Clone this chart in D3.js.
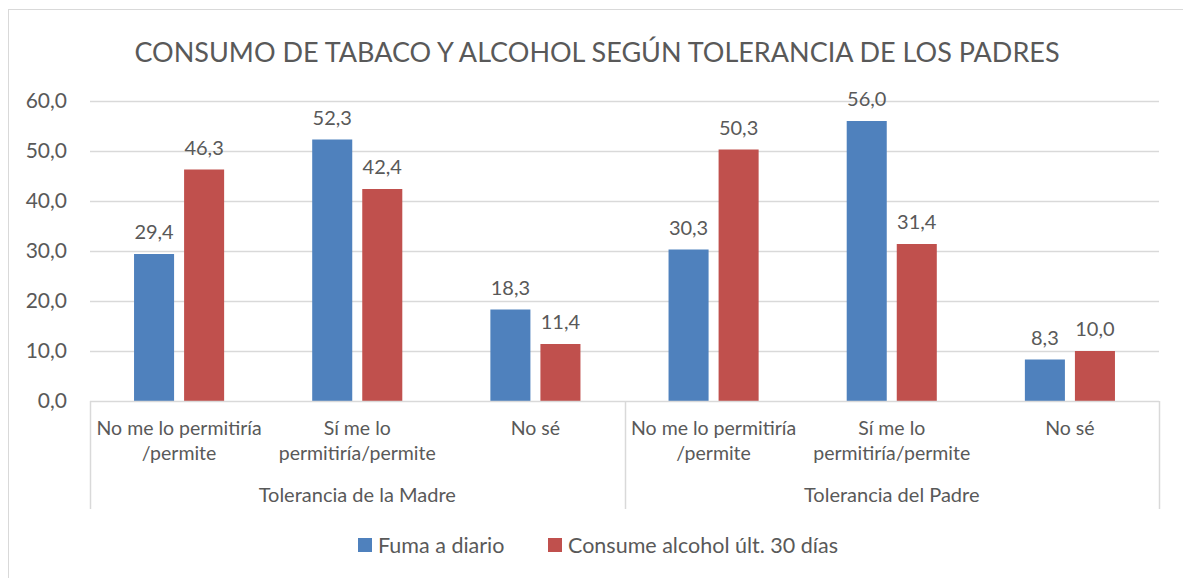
<!DOCTYPE html>
<html>
<head>
<meta charset="utf-8">
<script src="https://cdn.jsdelivr.net/npm/d3@7"></script>
<style>
  body { margin: 0; background: #fff; }
  svg { display: block; font-family: Lato, "Open Sans", sans-serif; }
</style>
</head>
<body>
<div id="chart"></div>
<script>
// ── Data ───────────────────────────────────────────────────────────────
const groups = ["Tolerancia de la Madre", "Tolerancia del Padre"];
const answers = [
  ["No me lo permitiría", "/permite"],
  ["Sí me lo", "permitiría/permite"],
  ["No sé"]
];
const seriesNames = ["Fuma a diario", "Consume alcohol últ. 30 días"];
const fumaValues    = [29.4, 52.3, 18.3, 30.3, 56.0, 8.3];
const alcoholValues = [46.3, 42.4, 11.4, 50.3, 31.4, 10.0];
const yTicks = [0, 10, 20, 30, 40, 50, 60];

const COLORS = ["#4f81bd", "#c0504d"];
const TEXT = "#595959";

const W = 1183, H = 578;
const plot = { left: 90, right: 1159, top: 101, bottom: 401 };

const svg = d3.select("#chart").append("svg")
  .attr("width", W).attr("height", H);

// chart frame
svg.append("rect")
  .attr("x", 8.5).attr("y", 9.5)
  .attr("width", W + 10).attr("height", H + 10)
  .attr("fill", "#fff").attr("stroke", "#d9d9d9");

// title
svg.append("text")
  .attr("x", 597).attr("y", 62)
  .attr("text-anchor", "middle")
  .style("font-size", "27px").style("fill", TEXT)
  .text("CONSUMO DE TABACO Y ALCOHOL SEGÚN TOLERANCIA DE LOS PADRES");

// ── Scales ─────────────────────────────────────────────────────────────
const cats = d3.range(groups.length * answers.length);
const x = d3.scaleBand().domain(cats).range([plot.left, plot.right]);
const y = d3.scaleLinear().domain([0, 60]).range([plot.bottom, plot.top]);
const barW = x.bandwidth() * 40 / 178;
const gap = barW / 4;
const xInner = d3.scaleOrdinal().domain([0, 1]).range([-barW - gap / 2, gap / 2]);

// grid
svg.append("g").selectAll("line")
  .data(yTicks.filter(t => t > 0))
  .join("line")
  .attr("x1", plot.left).attr("x2", plot.right)
  .attr("y1", d => Math.round(y(d)) + 0.5).attr("y2", d => Math.round(y(d)) + 0.5)
  .attr("stroke", "#d9d9d9").attr("stroke-width", 1.5);

// y axis labels
const yAxis = svg.append("g")
  .attr("transform", `translate(${plot.left},0)`)
  .call(d3.axisLeft(y).tickValues(yTicks).tickSize(0).tickPadding(23)
    .tickFormat(d => d3.format(".1f")(d).replace(".", ",")));
yAxis.select(".domain").remove();
yAxis.selectAll("text").style("font-size", "21px").style("fill", TEXT)
  .style("font-family", "Lato, sans-serif");

// bars
const bars = [];
cats.forEach(i => {
  bars.push({ cat: i, s: 0, v: fumaValues[i] });
  bars.push({ cat: i, s: 1, v: alcoholValues[i] });
});

svg.append("g").selectAll("rect")
  .data(bars)
  .join("rect")
  .attr("x", d => x(d.cat) + x.bandwidth() / 2 + xInner(d.s))
  .attr("width", barW)
  .attr("y", d => y(d.v))
  .attr("height", d => y(0) - y(d.v))
  .attr("fill", d => COLORS[d.s]);

// value labels
svg.append("g").selectAll("text")
  .data(bars)
  .join("text")
  .attr("x", d => x(d.cat) + x.bandwidth() / 2 + xInner(d.s) + barW / 2)
  .attr("y", d => y(d.v) - 15)
  .attr("text-anchor", "middle")
  .style("font-size", "20px").style("fill", TEXT)
  .text(d => d3.format(".1f")(d.v).replace(".", ","));

// category axis
const axisG = svg.append("g");
axisG.append("line")
  .attr("x1", plot.left).attr("x2", plot.right)
  .attr("y1", plot.bottom + 0.5).attr("y2", plot.bottom + 0.5)
  .attr("stroke", "#d9d9d9").attr("stroke-width", 1.5);

const sepX = [0, answers.length, cats.length].map(i =>
  i < cats.length ? x(i) : plot.right);
axisG.selectAll("line.sep")
  .data(sepX)
  .join("line").attr("class", "sep")
  .attr("x1", d => Math.round(d) + 0.5).attr("x2", d => Math.round(d) + 0.5)
  .attr("y1", plot.bottom).attr("y2", 509)
  .attr("stroke", "#d9d9d9").attr("stroke-width", 1.5);

cats.forEach(i => {
  const lines = answers[i % answers.length];
  const t = axisG.append("text")
    .attr("x", x(i) + x.bandwidth() / 2)
    .attr("y", 435)
    .attr("text-anchor", "middle")
    .style("font-size", "19.5px").style("fill", TEXT);
  lines.forEach((l, k) => {
    t.append("tspan").attr("x", x(i) + x.bandwidth() / 2)
      .attr("dy", k === 0 ? 0 : 25).text(l);
  });
});

axisG.selectAll("text.group")
  .data(groups)
  .join("text").attr("class", "group")
  .attr("x", (d, g) => (x(g * answers.length) + (g + 1 < groups.length ? x((g + 1) * answers.length) : plot.right)) / 2)
  .attr("y", 502)
  .attr("text-anchor", "middle")
  .style("font-size", "20px").style("fill", TEXT)
  .text(d => d);

// legend
const legend = svg.append("g");
const legendX = [358, 548];
seriesNames.forEach((name, i) => {
  legend.append("rect")
    .attr("x", legendX[i]).attr("y", 538)
    .attr("width", 14).attr("height", 14)
    .attr("fill", COLORS[i]);
  legend.append("text")
    .attr("x", legendX[i] + 20).attr("y", 553)
    .style("font-size", "21.5px").style("fill", TEXT)
    .text(name);
});
</script>
</body>
</html>
